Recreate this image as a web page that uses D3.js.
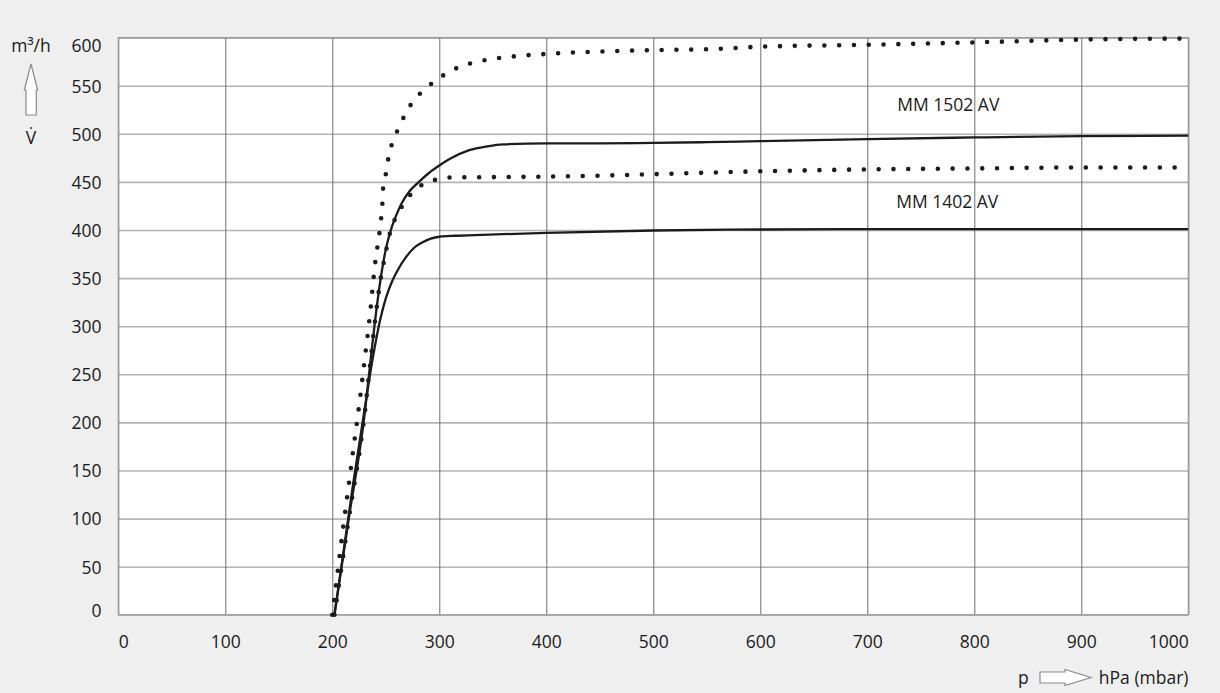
<!DOCTYPE html>
<html><head><meta charset="utf-8">
<script src="https://cdn.jsdelivr.net/npm/d3@7"></script>
<style>body{margin:0;background:#efefef}svg{display:block}</style>
</head><body><svg id="c" width="1220" height="693"></svg>
<script>
// ---- data ----
const xTicks = [0,100,200,300,400,500,600,700,800,900,1000];
const yTicks = [0,50,100,150,200,250,300,350,400,450,500,550,600];

// MM 1502 AV, dotted (upper)
const p1502Dot = [200,205,210,215,220,225,230,235,240,244.5,246,247,247.7,250.8,252.7,256.7,262,268,275,285,295,307,320,340,370,400,450,500,553,600,700,800,900,1000];
const v1502Dot = [0,45,90,132,175,217,263,310,365,401,416,431,447,462,477,492,506,520,533,545,554,563,570,576,580.5,583,585.5,587,588,590.5,592.5,595,598,599];
// MM 1502 AV, solid
const p1502Sol = [202,215,230.7,235,240,245,250,255,260,265,272,280,290,300,310,328,345,360,400,450,500,550,600,700,800,900,1000];
const v1502Sol = [0,97,213,257,306,348,380,401,416,428,440,449,459,467,474,483,487,489,490,490,490.5,491.3,492.4,494.5,496.2,497.6,498];
// MM 1402 AV, dotted
const p1402Dot = [202,215,230.7,235,240,245,247.7,250.2,253,257,263.3,271,281.3,294.4,307.8,350,400,450,500,600,700,800,900,1000];
const v1402Dot = [0,97,213,257,306,348,364,378,393,407,421,434,445,451.5,454.5,455,455.5,456.5,458,461,463,464,465,465];
// MM 1402 AV, solid
const p1402Sol = [202,210,220,230,238,245,250,256,262,269,276,284,292,300,315,340,400,500,600,700,800,900,1000];
const v1402Sol = [0,62,140,212,268,308,329,347,360,372,381,387,391,393,394,395,397,399.5,400.5,401,401,401,401];

const seriesLabels = ["MM 1502 AV","MM 1402 AV"];
const labelP = [728, 727];
const labelV = [524, 423];

// ---- layout ----
const svg = d3.select("#c");
const X0 = 118.3, X1 = 1188.3, Y0 = 614.8, Y1 = 37.6;
const x = d3.scaleLinear().domain([0,1000]).range([X0,X1]);
const y = d3.scaleLinear().domain([0,600]).range([Y0,Y1]);
const FONT = "'Open Sans', 'Noto Sans', sans-serif";
const FS = 17.5;
const TXT = "#1a1a1a";

svg.append("rect").attr("x",X0).attr("y",Y1).attr("width",X1-X0).attr("height",Y0-Y1).attr("fill","#fff");

// horizontal grid
svg.append("g").attr("transform",`translate(${X0},0)`)
  .call(d3.axisLeft(y).tickValues(yTicks).tickSize(-(X1-X0)).tickFormat(""))
  .call(g=>g.select(".domain").remove())
  .call(g=>g.selectAll(".tick line").attr("stroke","#b4b4b4").attr("stroke-width",1.6));
// vertical grid
svg.append("g").attr("transform",`translate(0,${Y0})`)
  .call(d3.axisBottom(x).tickValues(xTicks).tickSize(-(Y0-Y1)).tickFormat(""))
  .call(g=>g.select(".domain").remove())
  .call(g=>g.selectAll(".tick line").attr("stroke","#6e6e6e").attr("stroke-width",1));
// border
svg.append("rect").attr("x",X0).attr("y",Y1).attr("width",X1-X0).attr("height",Y0-Y1)
  .attr("fill","none").attr("stroke","#9a9a9a").attr("stroke-width",1.2);

// y labels
svg.append("g").attr("transform",`translate(101.5,0)`)
  .call(d3.axisLeft(y).tickValues(yTicks).tickSize(0).tickPadding(0).tickFormat(d3.format("d")))
  .call(g=>g.select(".domain").remove())
  .call(g=>g.selectAll("text").attr("font-family",FONT).attr("font-size",FS).attr("fill",TXT)
     .attr("dy",d=> d===600 ? "0.8em" : d===0 ? "0.1em" : "0.36em"));
// x labels
svg.append("g").attr("transform",`translate(0,${Y0})`)
  .call(d3.axisBottom(x).tickValues(xTicks).tickSize(0).tickPadding(0).tickFormat(d3.format("d")))
  .call(g=>g.select(".domain").remove())
  .call(g=>g.selectAll("text").attr("font-family",FONT).attr("font-size",FS).attr("fill",TXT)
     .attr("y",33.5).attr("dy",0)
     .attr("text-anchor",d=> d===0 ? "start" : d===1000 ? "end" : "middle"));

// curves
const line = d3.line().x(d=>x(d[0])).y(d=>y(d[1])).curve(d3.curveMonotoneX);
const zip = (a,b)=>a.map((v,i)=>[v,b[i]]);
const curves = [
  {p:p1502Sol, v:v1502Sol, dotted:false},
  {p:p1402Sol, v:v1402Sol, dotted:false},
  {p:p1502Dot, v:v1502Dot, dotted:true},
  {p:p1402Dot, v:v1402Dot, dotted:true}
];
curves.forEach(c=>{
  const path = svg.append("path").attr("d",line(zip(c.p,c.v))).attr("fill","none").attr("stroke","#1c1c1c");
  if(c.dotted){
    path.attr("stroke-width",4.6).attr("stroke-linecap","round").attr("stroke-dasharray","0 14.8");
  } else {
    path.attr("stroke-width",2.3).attr("stroke-linejoin","round");
  }
});

// series labels
svg.append("g").selectAll("text").data(seriesLabels).join("text")
  .attr("x",(d,i)=>x(labelP[i])).attr("y",(d,i)=>y(labelV[i]))
  .attr("font-family",FONT).attr("font-size",FS).attr("fill",TXT).text(d=>d);

// axis titles
svg.append("text").attr("x",31).attr("y",52).attr("text-anchor","middle")
  .attr("font-family",FONT).attr("font-size",FS).attr("fill",TXT).text("m³/h");
svg.append("path").attr("d","M31,64 L37.7,90 L36.3,90 L36.3,115 L26,115 L26,90 L24.3,90 Z")
  .attr("fill","#fff").attr("stroke","#8a8a8a").attr("stroke-width",1.2);
svg.append("text").attr("x",31).attr("y",144).attr("text-anchor","middle")
  .attr("font-family",FONT).attr("font-size",FS).attr("fill",TXT).text("V̇");

svg.append("text").attr("x",1018).attr("y",684).attr("font-family",FONT).attr("font-size",FS).attr("fill",TXT).text("p");
svg.append("path").attr("d","M1040,672 L1065,672 L1065,669.5 L1091,677.5 L1065,685.5 L1065,683 L1040,683 Z")
  .attr("fill","#fff").attr("stroke","#8a8a8a").attr("stroke-width",1.2);
svg.append("text").attr("x",1188.5).attr("y",684).attr("text-anchor","end").attr("font-family",FONT).attr("font-size",FS).attr("fill",TXT).text("hPa (mbar)");
</script>
</body></html>
